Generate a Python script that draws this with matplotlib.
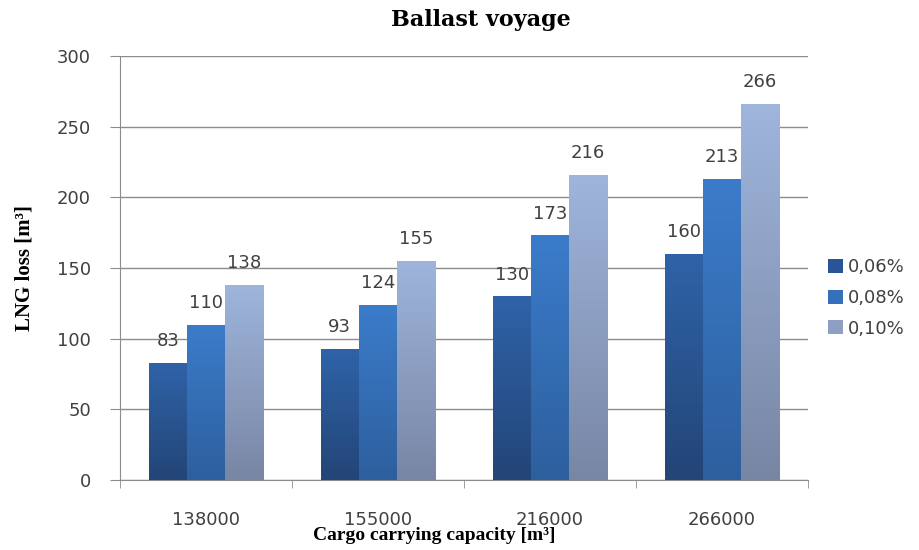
import numpy as np
import matplotlib
matplotlib.use("Agg")
import matplotlib.pyplot as plt
from matplotlib.colors import LinearSegmentedColormap
from matplotlib.patches import Patch

# capacity classes and LNG loss per boil-off rate
capacities = ["138000", "155000", "216000", "266000"]
rates = ["0,06%", "0,08%", "0,10%"]
loss_006 = [83, 93, 130, 160]
loss_008 = [110, 124, 173, 213]
loss_010 = [138, 155, 216, 266]

series = [loss_006, loss_008, loss_010]
# (bottom, top) colours for the vertical gradient of each series
shades = [("#234577", "#2f63a8"), ("#2d5f9e", "#3b7cca"), ("#7886a4", "#9fb5dc")]
legend_cols = ["#2a5594", "#3570bb", "#8d9fc3"]

fig = plt.figure(figsize=(9.2, 5.5), dpi=100)
ax = fig.add_axes([120 / 920, 70 / 550, 688 / 920, 424 / 550])

width = 0.222
x = np.arange(len(capacities))
grad = np.linspace(0, 1, 256).reshape(-1, 1)

for i, (vals, (c0, c1)) in enumerate(zip(series, shades)):
    cmap = LinearSegmentedColormap.from_list(f"s{i}", [c0, c1])
    pos = x + (i - 1) * width
    bars = ax.bar(pos, vals, width, color="none", edgecolor="none", zorder=3)
    for b, v in zip(bars, vals):
        x0 = b.get_x()
        im = ax.imshow(grad, extent=[x0, x0 + width, 0, v], origin="lower",
                       aspect="auto", cmap=cmap, zorder=3)
        im.set_clip_path(b)
        ax.text(x0 + width / 2, v + 9, str(v), ha="center", va="bottom",
                fontsize=13, color="#404040", family="DejaVu Sans", zorder=5)

ax.set_xlim(-0.5, len(capacities) - 0.5)
ax.set_ylim(0, 300)
ax.set_yticks(np.arange(0, 301, 50))
ax.yaxis.grid(True, color="#8c8c8c", linewidth=1)
ax.set_axisbelow(True)

ax.set_xticks(x)
ax.set_xticklabels(capacities)
ax.set_xticks(np.arange(-0.5, len(capacities), 1), minor=True)
ax.tick_params(axis="x", which="major", length=0, pad=22,
               labelsize=13, labelcolor="#404040")
ax.tick_params(axis="x", which="minor", length=6, color="#8c8c8c")
ax.tick_params(axis="y", length=7, color="#8c8c8c", pad=14,
               labelsize=13, labelcolor="#404040")

for side in ["top", "right"]:
    ax.spines[side].set_visible(False)
for side in ["left", "bottom"]:
    ax.spines[side].set_color("#8c8c8c")

serif = "Liberation Serif"
fig.text(481 / 920, 1 - 20 / 550, "Ballast voyage", ha="center", va="center",
         family="DejaVu Serif", fontweight="bold", fontsize=16)
ax.set_ylabel("LNG loss [m³]", family=serif, fontweight="bold",
              fontsize=15, labelpad=16)
fig.text(434 / 920, 1 - 536 / 550, "Cargo carrying capacity [m³]",
         ha="center", va="center", family=serif, fontweight="bold", fontsize=14)

handles = [Patch(facecolor=c, edgecolor="none") for c in legend_cols]
fig.legend(handles, rates, loc="center left", bbox_to_anchor=(812 / 920, 1 - 298 / 550),
           frameon=False, fontsize=13, handlelength=0.8, handleheight=0.8,
           handletextpad=0.3, labelspacing=0.7, labelcolor="#404040")

fig.savefig("out.png", dpi=100)
